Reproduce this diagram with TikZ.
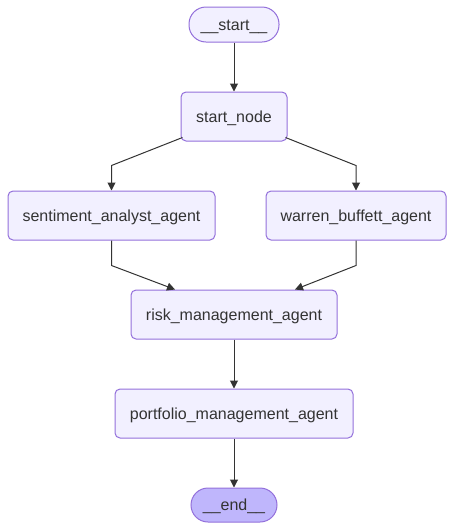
\documentclass[tikz,border=0pt]{standalone}
\usepackage{fontspec}
\setmainfont{Liberation Sans}
\usetikzlibrary{arrows.meta}
\definecolor{nodefill}{HTML}{F2F0FF}
\definecolor{nodeline}{HTML}{9370DB}
\definecolor{endfill}{HTML}{BFB6FC}
\definecolor{txt}{HTML}{333333}
\begin{document}
\begin{tikzpicture}[x=1pt, y=-1pt, >={Triangle[length=8pt,width=8pt]},
    bloco/.style={draw=nodeline, fill=nodefill, rectangle, rounded corners=5pt, line width=1pt,
      minimum height=49pt, text height=12pt, text depth=1pt, text=txt, font=\fontsize{16}{19}\selectfont},
    terminal/.style={bloco, rounded corners=17pt, minimum height=35pt},
    edge/.style={->, draw=txt, line width=1pt}]
\useasboundingbox (0,0) rectangle (455,531);
% Inicio e fim
\node[terminal, minimum width=90pt] (start) at (234,24.5) {\_\_start\_\_};
\node[terminal, fill=endfill, minimum width=86pt, minimum height=34pt] (end) at (234,505) {\_\_end\_\_};
% Agentes
\node[bloco, minimum width=106pt] (startnode) at (234,116.5) {start\_node};
\node[bloco, minimum width=207pt] (sentiment) at (111.5,215.5) {sentiment\_analyst\_agent};
\node[bloco, minimum width=180pt] (buffett) at (356,215.5) {warren\_buffett\_agent};
\node[bloco, minimum width=206pt] (risk) at (234,314.5) {risk\_management\_agent};
\node[bloco, minimum width=238pt] (portfolio) at (234,413.5) {portfolio\_management\_agent};
% Ligacoes
\draw[edge] (start.south) -- (startnode.north);
\draw[edge] ([xshift=2pt,yshift=4pt]startnode.south west) -- ([yshift=25pt]sentiment.north) -- (sentiment.north);
\draw[edge] ([xshift=-2pt,yshift=4pt]startnode.south east) -- ([yshift=25pt]buffett.north) -- (buffett.north);
\draw[edge] (sentiment.south) -- ([yshift=-25pt]sentiment.south) -- ([xshift=-59pt]risk.north);
\draw[edge] (buffett.south) -- ([yshift=-25pt]buffett.south) -- ([xshift=61pt]risk.north);
\draw[edge] (risk.south) -- (portfolio.north);
\draw[edge] (portfolio.south) -- (end.north);
\end{tikzpicture}
\end{document}
